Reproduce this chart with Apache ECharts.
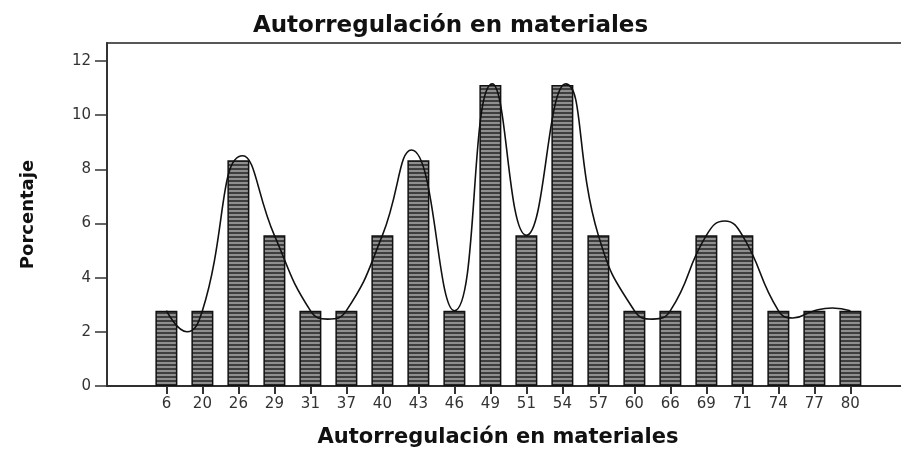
<!DOCTYPE html>
<html>
<head>
<meta charset="utf-8">
<script src="https://cdn.jsdelivr.net/npm/echarts@6/dist/echarts.min.js"></script>
<style>
html,body{margin:0;padding:0;background:#fff;}
#chart{width:901px;height:451px;}
</style>
</head>
<body>
<div id="chart"></div>
<script>
// Data
const categories = ['6','20','26','29','31','37','40','43','46','49','51','54','57','60','66','69','71','74','77','80'];
const percentages = [2.78,2.78,8.33,5.56,2.78,2.78,5.56,8.33,2.78,11.11,5.56,11.11,5.56,2.78,2.78,5.56,5.56,2.78,2.78,2.78];
// Fitted (interpolation) curve: position in category slots, and percentage
const curvePos = [0, 0.57, 1, 2.12, 3, 4, 4.48, 5, 6, 6.81, 8, 9.05, 10, 11.09, 12, 13, 13.51, 14, 15, 15.51, 16, 17, 17.4, 18, 18.5, 19];
const curveVal = [2.78, 2.0, 2.78, 8.5, 5.56, 2.78, 2.47, 2.78, 5.56, 8.71, 2.78, 11.15, 5.56, 11.15, 5.56, 2.78, 2.47, 2.78, 5.56, 6.09, 5.56, 2.78, 2.51, 2.78, 2.88, 2.78];
const yTicks = [0,2,4,6,8,10,12];
const titleText = 'Autorregulación en materiales';
const xName = 'Autorregulación en materiales';
const yName = 'Porcentaje';

const barPts = categories.map((c, i) => [i, percentages[i]]);
const curvePts = curvePos.map((p, i) => [p, curveVal[i]]);
const xTicks = categories.map((c, i) => i);

// horizontal stripe pattern for the bars
const pc = document.createElement('canvas');
pc.width = 4; pc.height = 4;
const pctx = pc.getContext('2d');
pctx.fillStyle = '#3e3e3e'; pctx.fillRect(0, 0, 4, 2);
pctx.fillStyle = '#8f8f8f'; pctx.fillRect(0, 2, 4, 2);

const font = 'DejaVu Sans';
const chart = echarts.init(document.getElementById('chart'), null, {renderer: 'canvas'});
chart.setOption({
  animation: false,
  backgroundColor: '#fff',
  title: {
    text: titleText,
    left: 'center',
    top: 10,
    textStyle: {fontFamily: font, fontWeight: 'bold', fontSize: 23, color: '#111'}
  },
  grid: {left: 107, right: -30, top: 43, bottom: 65, outerBoundsMode: 'none', containLabel: false,
         show: true, borderColor: '#222', borderWidth: 1.5, backgroundColor: 'transparent'},
  xAxis: {
    type: 'value',
    min: -1.65,
    max: 21.24,
    name: xName,
    nameLocation: 'middle',
    nameGap: 41,
    nameTextStyle: {fontFamily: font, fontWeight: 'bold', fontSize: 21, color: '#111', padding: [0, 42, 0, 0]},
    axisLine: {show: true, onZero: false, lineStyle: {color: '#222', width: 1.5}},
    axisTick: {show: true, customValues: xTicks, length: 8, lineStyle: {color: '#333', width: 2}},
    axisLabel: {customValues: xTicks, formatter: v => categories[v], fontFamily: font, fontSize: 15, color: '#333', margin: 11},
    splitLine: {show: false}
  },
  yAxis: {
    type: 'value',
    min: 0,
    max: 12.66,
    name: yName,
    nameLocation: 'middle',
    nameRotate: 90,
    nameGap: 70,
    nameTextStyle: {fontFamily: font, fontWeight: 'bold', fontSize: 18, color: '#111'},
    axisLine: {show: true, onZero: false, lineStyle: {color: '#333', width: 2}},
    axisTick: {show: true, customValues: yTicks, length: 12, lineStyle: {color: '#333', width: 1.5}},
    axisLabel: {customValues: yTicks, fontFamily: font, fontSize: 15, color: '#333', margin: 16},
    splitLine: {show: false}
  },
  series: [
    {
      type: 'bar',
      data: barPts,
      barWidth: 22,
      itemStyle: {
        color: {image: pc, repeat: 'repeat'},
        borderColor: '#111',
        borderWidth: 1.5
      }
    },
    {
      type: 'line',
      data: curvePts,
      smooth: 0.5,
      symbol: 'none',
      lineStyle: {color: '#111', width: 1.6}
    }
  ]
});
</script>
</body>
</html>
